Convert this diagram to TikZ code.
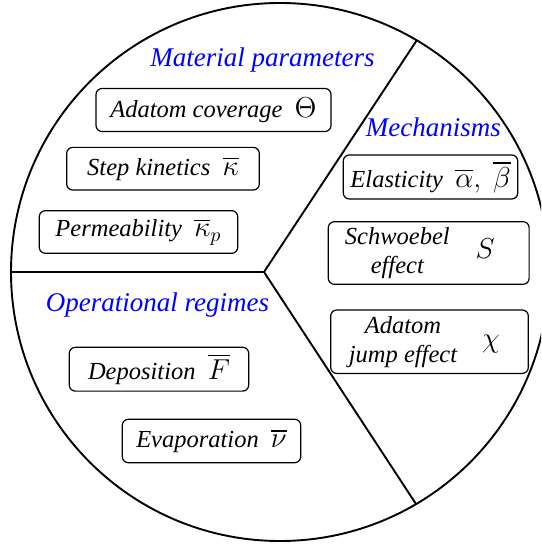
\documentclass[tikz,border=0pt]{standalone}
\usepackage{amsmath}
\usepackage{fontspec}
\setmainfont{Liberation Serif}
\usetikzlibrary{positioning}
\newcommand{\symb}[1]{{\fontsize{14}{16}\selectfont$#1$}}

\begin{document}
\begin{tikzpicture}[x=0.5pt,y=-0.5pt,
   box/.style={draw,rounded corners=3pt,line width=0.6pt,inner sep=0pt,
     font=\fontsize{12.25}{14.5}\selectfont\itshape},
   head/.style={text=blue,anchor=base,inner sep=0pt,
     font=\fontsize{13.5}{16}\selectfont\itshape},
   rim/.style={line width=0.95pt}]
  \useasboundingbox (0,0) rectangle (541,544);
  \clip (0,0) rectangle (541,544);
  \draw[rim] (280,272) circle[radius=269];
  \coordinate (o) at (264,272);
  \coordinate (a) at (416.5,40.7);
  \coordinate (b) at (416,504);
  \coordinate (c) at (11,272);
  \draw[rim] (c) -- (o) -- (a) (o) -- (b);
  \node[head] (mat) at (262.5,67) {Material parameters};
  \node[head] (mech) at (433.3,136.7) {Mechanisms};
  \node[head] (ops) at (157.5,311.7) {Operational regimes};
  \node[box,minimum width=117.5pt,minimum height=21.5pt] (cov) at (213.5,110) {Adatom coverage~~\symb{\Theta}};
  \node[box,minimum width=96.3pt,minimum height=21.3pt] (kin) at (163,168.7) {Step kinetics~~\symb{\overline{\kappa}}};
  \node[box,minimum width=99.2pt,minimum height=21.3pt] (perm) at (138.5,232) {Permeability~~\symb{\overline{\kappa}_p}};
  \node[box,minimum width=87.2pt,minimum height=22pt] (elas) at (430.5,177) {Elasticity~~\symb{\overline{\alpha},\ \overline{\beta}}};
  \node[box,minimum width=100.4pt,minimum height=31.3pt] (schw) at (428.7,253)
    {\begin{tabular}{@{}c@{}}Schwoebel\\effect\end{tabular}\hspace{13pt}\symb{S}\hspace{8.9pt}\mbox{}};
  \node[box,minimum width=98.8pt,minimum height=31.7pt] (jump) at (429.5,341.7)
    {\begin{tabular}{@{}c@{}}Adatom\\jump effect\end{tabular}\hspace{12.5pt}\symb{\chi}\hspace{5.2pt}\mbox{}};
  \node[box,minimum width=89.7pt,minimum height=21.9pt] (dep) at (159,369.2) {Deposition~~\symb{\overline{F}}};
  \node[box,minimum width=89.2pt,minimum height=21.7pt] (evap) at (211.5,441) {Evaporation~~\symb{\overline{\nu}}};
\end{tikzpicture}
\end{document}
